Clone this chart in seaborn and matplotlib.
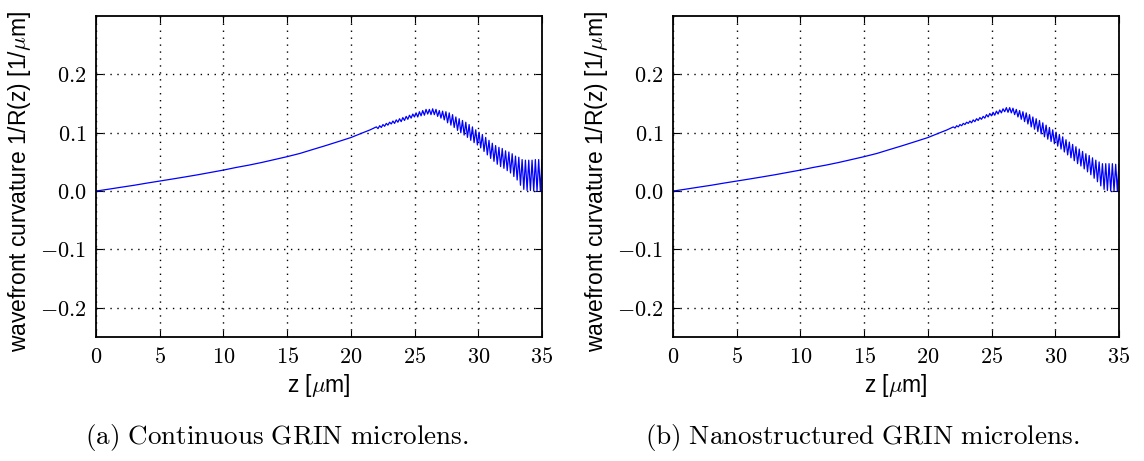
import numpy as np
import pandas as pd
import matplotlib
matplotlib.use("Agg")
import matplotlib.pyplot as plt
import seaborn as sns
from matplotlib.ticker import FuncFormatter

# ---------------- data ----------------
z_smooth = [0, 1, 2, 3, 4, 5, 6, 7, 8, 9, 10, 11, 12, 13, 14, 15, 16, 17, 18, 19, 20, 21, 21.5]
k_a_smooth = [0.0, 0.0033, 0.0067, 0.010, 0.0137, 0.0172, 0.0207, 0.0243, 0.028, 0.032,
              0.036, 0.0405, 0.0445, 0.049, 0.054, 0.059, 0.0645, 0.0712, 0.0778, 0.0847,
              0.0917, 0.1005, 0.1048]
k_b_smooth = [0.0, 0.0033, 0.0067, 0.010, 0.0137, 0.0172, 0.0207, 0.0243, 0.028, 0.032,
              0.036, 0.0405, 0.0445, 0.049, 0.054, 0.059, 0.0645, 0.0712, 0.0778, 0.0847,
              0.0917, 0.1005, 0.1048]

# oscillating part: local maxima and minima
z_peak = [22.00, 22.26, 22.52, 22.78, 23.04, 23.30, 23.56, 23.82, 24.08, 24.34,
          24.60, 24.86, 25.12, 25.38, 25.64, 25.90, 26.16, 26.42, 26.68, 26.94,
          27.20, 27.46, 27.72, 27.98, 28.24, 28.50, 28.76, 29.02, 29.28, 29.54,
          29.80, 30.06, 30.32, 30.58, 30.84, 31.10, 31.36, 31.62, 31.88, 32.14,
          32.40, 32.66, 32.92, 33.18, 33.44, 33.70, 33.96, 34.22, 34.48, 34.74,
          35.00]
z_trough = [22.13, 22.39, 22.65, 22.91, 23.17, 23.43, 23.69, 23.95, 24.21, 24.47,
            24.73, 24.99, 25.25, 25.51, 25.77, 26.03, 26.29, 26.55, 26.81, 27.07,
            27.33, 27.59, 27.85, 28.11, 28.37, 28.63, 28.89, 29.15, 29.41, 29.67,
            29.93, 30.19, 30.45, 30.71, 30.97, 31.23, 31.49, 31.75, 32.01, 32.27,
            32.53, 32.79, 33.05, 33.31, 33.57, 33.83, 34.09, 34.35, 34.61, 34.87]

k_a_peak = [0.110, 0.112, 0.114, 0.116, 0.118, 0.120, 0.122, 0.124, 0.126, 0.128,
            0.130, 0.132, 0.134, 0.136, 0.138, 0.140, 0.140, 0.141, 0.140, 0.138,
            0.137, 0.136, 0.134, 0.131, 0.127, 0.124, 0.121, 0.118, 0.114, 0.110,
            0.105, 0.101, 0.097, 0.092, 0.087, 0.082, 0.078, 0.075, 0.073, 0.069,
            0.067, 0.064, 0.060, 0.058, 0.054, 0.053, 0.053, 0.053, 0.054, 0.054,
            0.054]
k_a_trough = [0.107, 0.109, 0.111, 0.113, 0.115, 0.116, 0.118, 0.119, 0.121, 0.123,
              0.125, 0.127, 0.127, 0.129, 0.130, 0.132, 0.131, 0.131, 0.128, 0.125,
              0.122, 0.117, 0.113, 0.109, 0.104, 0.100, 0.096, 0.092, 0.087, 0.083,
              0.079, 0.074, 0.068, 0.062, 0.056, 0.051, 0.046, 0.042, 0.039, 0.035,
              0.031, 0.025, 0.019, 0.010, 0.003, 0.001, 0.001, 0.000, 0.000, 0.000]

k_b_peak = [0.110, 0.112, 0.114, 0.116, 0.118, 0.120, 0.122, 0.124, 0.126, 0.128,
            0.131, 0.133, 0.135, 0.137, 0.139, 0.141, 0.143, 0.143, 0.142, 0.140,
            0.138, 0.136, 0.134, 0.131, 0.127, 0.124, 0.121, 0.117, 0.113, 0.109,
            0.105, 0.101, 0.097, 0.093, 0.088, 0.084, 0.080, 0.076, 0.072, 0.068,
            0.064, 0.061, 0.057, 0.053, 0.050, 0.047, 0.047, 0.047, 0.047, 0.046,
            0.046]
k_b_trough = [0.108, 0.110, 0.112, 0.114, 0.116, 0.117, 0.119, 0.121, 0.123, 0.125,
              0.127, 0.129, 0.130, 0.132, 0.134, 0.136, 0.135, 0.134, 0.131, 0.127,
              0.123, 0.119, 0.115, 0.110, 0.106, 0.102, 0.098, 0.093, 0.089, 0.085,
              0.081, 0.077, 0.072, 0.067, 0.062, 0.057, 0.052, 0.047, 0.043, 0.038,
              0.033, 0.028, 0.022, 0.016, 0.009, 0.003, 0.001, 0.000, 0.000, 0.000]

x_ticks = [0, 5, 10, 15, 20, 25, 30, 35]
y_ticks = [-0.2, -0.1, 0.0, 0.1, 0.2]
captions = [r"$\mathrm{(a)\ Continuous\ GRIN\ microlens.}$",
            r"$\mathrm{(b)\ Nanostructured\ GRIN\ microlens.}$"]
ylabel = "wavefront curvature 1/R(z) [1/$\\mu$m]"
xlabel = "z [$\\mu$m]"


def build(k_smooth, k_peak, k_trough):
    z_osc = np.array(z_peak + z_trough)
    k_osc = np.array(k_peak + k_trough)
    order = np.argsort(z_osc, kind="stable")
    z = list(z_smooth) + list(z_osc[order])
    k = list(k_smooth) + list(k_osc[order])
    return pd.DataFrame({"z": z, "k": k})


sns.set_style("ticks")
plt.rcParams["mathtext.fontset"] = "cm"
plt.rcParams["font.family"] = ["Liberation Sans", "DejaVu Sans"]
plt.rcParams["text.color"] = "black"
plt.rcParams["axes.labelcolor"] = "black"

fig = plt.figure(figsize=(11.44, 4.61), dpi=100)
W, H = 1144, 461
axes = [fig.add_axes([96 / W, (H - 337) / H, 446 / W, 321 / H]),
        fig.add_axes([673 / W, (H - 337) / H, 446 / W, 321 / H])]

datasets = [build(k_a_smooth, k_a_peak, k_a_trough),
            build(k_b_smooth, k_b_peak, k_b_trough)]

cm_fmt_y = FuncFormatter(lambda v, p: "$%.1f$" % v if abs(v) > 1e-9 else "$0.0$")
cm_fmt_x = FuncFormatter(lambda v, p: "$%d$" % round(v))

for ax, df, cap, cx in zip(axes, datasets, captions, [0.242, 0.754]):
    sns.lineplot(data=df, x="z", y="k", ax=ax, color="#0000ff", linewidth=0.9,
                 sort=False, estimator=None)
    ax.set_xlim(0, 35)
    ax.set_ylim(-0.25, 0.3)
    ax.set_xticks(x_ticks)
    ax.set_yticks(y_ticks)
    ax.xaxis.set_major_formatter(cm_fmt_x)
    ax.yaxis.set_major_formatter(cm_fmt_y)
    ax.tick_params(direction="in", length=5, width=0.8, top=True, right=True,
                   labelsize=16, pad=7, colors="black")
    ax.grid(True, linestyle=(0, (1, 4)), color="black", linewidth=1.0)
    for s in ax.spines.values():
        s.set_linewidth(1.3)
        s.set_color("black")
    ax.set_xlabel(xlabel, fontsize=16.5, labelpad=3)
    ax.set_ylabel(ylabel, fontsize=16.5)
    ax.yaxis.set_label_coords(-0.141, 0.483)
    fig.text(cx, 0.052, cap, fontsize=19.5, ha="center", va="center", color="black")

fig.savefig("out.png", dpi=100)
